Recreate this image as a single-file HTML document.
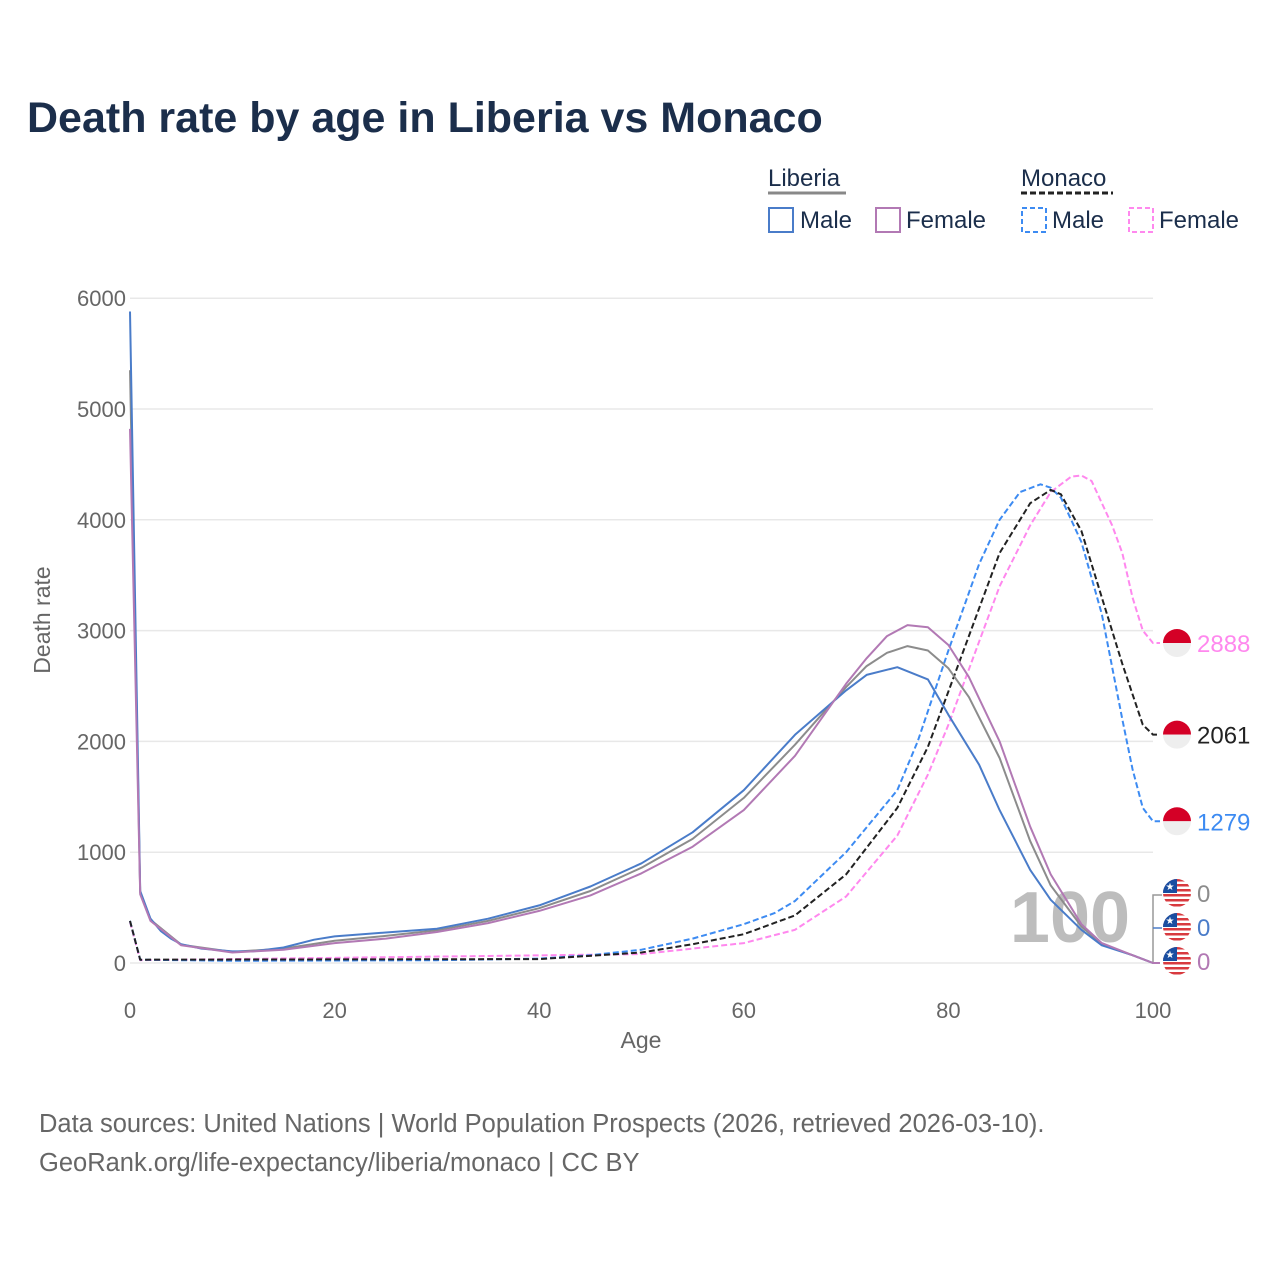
<!DOCTYPE html>
<html><head><meta charset="utf-8"><style>
body{margin:0;background:#fff;font-family:"Liberation Sans",sans-serif}
svg text{font-family:"Liberation Sans",sans-serif}
</style></head><body>
<svg id="c" width="1280" height="1280" viewBox="0 0 1280 1280">
<defs id="defs"></defs>
<text x="27" y="132" font-size="43" font-weight="bold" fill="#1b2e4b">Death rate by age in Liberia vs Monaco</text>
<g font-size="24" fill="#1b2e4b">
<text x="768" y="186">Liberia</text>
<line x1="768" y1="193" x2="846" y2="193" stroke="#888" stroke-width="3"/>
<text x="1021" y="186">Monaco</text>
<line x1="1021" y1="193" x2="1113" y2="193" stroke="#222" stroke-width="3" stroke-dasharray="6,3"/>
<rect x="769" y="208" width="24" height="24" fill="none" stroke="#4a7cc9" stroke-width="2"/>
<text x="800" y="228">Male</text>
<rect x="876" y="208" width="24" height="24" fill="none" stroke="#b279b4" stroke-width="2"/>
<text x="906" y="228">Female</text>
<rect x="1022" y="208" width="24" height="24" fill="none" stroke="#3d8bf2" stroke-width="2" stroke-dasharray="5,3"/>
<text x="1052" y="228">Male</text>
<rect x="1129" y="208" width="24" height="24" fill="none" stroke="#ff88ee" stroke-width="2" stroke-dasharray="5,3"/>
<text x="1159" y="228">Female</text>
</g>
<g id="grid"></g>
<text x="1070" y="942" font-size="72" font-weight="bold" fill="#bdbdbd" text-anchor="middle">100</text>
<g id="lines"></g>
<g id="ends"></g>
<text x="641" y="1048" font-size="23" fill="#666" text-anchor="middle">Age</text>
<text transform="translate(50,620) rotate(-90)" font-size="23" fill="#666" text-anchor="middle">Death rate</text>
<text x="39" y="1132" font-size="25.5" fill="#666">Data sources: United Nations | World Population Prospects (2026, retrieved 2026-03-10).</text>
<text x="39" y="1171" font-size="25.5" fill="#666">GeoRank.org/life-expectancy/liberia/monaco | CC BY</text>
</svg>
<script>
const yTicks=[0,1000,2000,3000,4000,5000,6000];
const xTicks=[0,20,40,60,80,100];
const libMaleAge=[0,1,2,3,4,5,7,10,12,15,18,20,25,30,35,40,45,50,55,60,65,70,72,75,78,80,83,85,88,90,93,95,98,100];
const libMaleVal=[5880,650,400,290,220,170,130,105,105,140,210,240,275,310,400,520,690,900,1180,1560,2060,2460,2600,2670,2560,2240,1790,1380,840,570,300,160,70,0];
const libFemAge=[0,1,2,5,10,15,20,25,30,35,40,45,50,55,60,65,70,72,74,76,78,80,82,85,88,90,93,95,98,100];
const libFemVal=[4820,620,380,160,95,120,180,220,280,360,470,610,810,1050,1380,1870,2520,2750,2950,3050,3030,2870,2580,2000,1230,800,350,180,70,0];
const libTotAge=[0,1,2,5,10,15,20,25,30,35,40,45,50,55,60,65,70,72,74,76,78,80,82,85,88,90,93,95,98,100];
const libTotVal=[5350,635,390,165,100,130,200,245,295,380,495,650,860,1120,1490,1970,2490,2680,2800,2860,2820,2660,2400,1850,1100,700,330,170,70,0];
const monMaleAge=[0,1,10,30,40,45,50,55,60,63,65,70,75,77,80,83,85,87,89,90,91,93,95,97,98,99,100];
const monMaleVal=[380,30,20,25,40,70,120,220,350,450,560,1000,1560,2000,2820,3600,4000,4250,4320,4290,4200,3800,3150,2200,1750,1400,1279];
const monTotAge=[0,1,40,50,55,60,65,70,75,78,80,83,85,88,90,91,93,95,97,99,100];
const monTotVal=[380,30,35,95,170,260,430,800,1400,1950,2450,3200,3700,4150,4270,4230,3900,3300,2700,2150,2061];
const monFemAge=[0,1,50,55,60,65,70,75,78,80,83,85,88,90,92,93,94,96,97,98,99,100];
const monFemVal=[370,25,80,130,180,300,600,1150,1700,2150,2900,3400,3950,4250,4390,4400,4350,3950,3700,3300,3000,2888];
const NS="http://www.w3.org/2000/svg";
const X=a=>130+a*10.23, Y=v=>963-v*0.1108;
function mk(tag,at,parent){const e=document.createElementNS(NS,tag);for(const k in at)e.setAttribute(k,at[k]);parent.appendChild(e);return e;}
const grid=document.getElementById('grid');
yTicks.forEach(t=>{
  const l=mk('line',{x1:130,x2:1153,y1:Y(t),y2:Y(t),stroke:'#e8e8e8','stroke-width':1.5},grid);
  
  
  const tx=mk('text',{x:126,y:Y(t)+8,'font-size':22,fill:'#666','text-anchor':'end'},grid);
  tx.textContent=t;
  
  
});
xTicks.forEach(t=>{
  const tx=mk('text',{x:X(t),y:1018,'font-size':22,fill:'#666','text-anchor':'middle'},grid);
  tx.textContent=t;
  
  
});
const lines=document.getElementById('lines');
function series(ages,vals,color,dash,name){
  const pts=ages.map((a,i)=>X(a).toFixed(1)+','+Y(vals[i]).toFixed(1));
  pts.push((X(100)+7)+','+Y(vals[vals.length-1]).toFixed(1));
  const p=mk('polyline',{points:pts.join(' '),fill:'none',stroke:color,'stroke-width':2,'stroke-linejoin':'round'},lines);
  if(dash)p.setAttribute('stroke-dasharray','6,3');
  
  
}
series(monFemAge,monFemVal,'#ff88ee',true,'monaco-female-line');
series(monMaleAge,monMaleVal,'#3d8bf2',true,'monaco-male-line');
series(monTotAge,monTotVal,'#222',true,'monaco-total-line');
series(libTotAge,libTotVal,'#8c8c8c',false,'liberia-total-line');
series(libMaleAge,libMaleVal,'#4a7cc9',false,'liberia-male-line');
series(libFemAge,libFemVal,'#b279b4',false,'liberia-female-line');
const ends=document.getElementById('ends');
const defs=document.getElementById('defs');
function monFlag(v,color,name){
  const cy=Y(v);
  const g=mk('g',{},ends);
  
  
  mk('path',{d:`M1163 ${cy} a14 14 0 0 1 28 0 z`,fill:'#d40026'},g);
  mk('path',{d:`M1163 ${cy} a14 14 0 0 0 28 0 z`,fill:'#eee'},g);
  const t=mk('text',{x:1197,y:cy+9,'font-size':24,fill:color},g);
  t.textContent=v;
}
monFlag(monFemVal[monFemVal.length-1],'#ff88ee','monaco-female-end-label');
monFlag(monTotVal[monTotVal.length-1],'#222','monaco-total-end-label');
monFlag(monMaleVal[monMaleVal.length-1],'#3d8bf2','monaco-male-end-label');
mk('path',{d:'M1162 895 H1153 V962',fill:'none',stroke:'#999','stroke-width':1.5},ends);
mk('path',{d:'M1162 928 H1153',fill:'none',stroke:'#4a7cc9','stroke-width':1.5},ends);
[[893,'#8c8c8c',libTotVal],[927,'#4a7cc9',libMaleVal],[961,'#b279b4',libFemVal]].forEach(([cy,c,arr],i)=>{
  const cp=mk('clipPath',{id:'cl'+i},defs);
  mk('circle',{cx:1177,cy:cy,r:14},cp);
  const g=mk('g',{},ends);
  
  
  const f=mk('g',{'clip-path':`url(#cl${i})`},g);
  mk('rect',{x:1163,y:cy-14,width:28,height:28,fill:'#fff'},f);
  for(let s=0;s<6;s++){mk('rect',{x:1163,y:cy-14+s*5,width:28,height:2.5,fill:'#d83a3f'},f);}
  mk('rect',{x:1163,y:cy-14,width:14,height:14,fill:'#1a4ea1'},f);
  const st=mk('text',{x:1170,y:cy-3,'font-size':10,fill:'#fff','text-anchor':'middle'},g);st.textContent='★';
  const t=mk('text',{x:1197,y:cy+9,'font-size':24,fill:c},g);
  t.textContent=arr[arr.length-1];
});
</script>
</body></html>
